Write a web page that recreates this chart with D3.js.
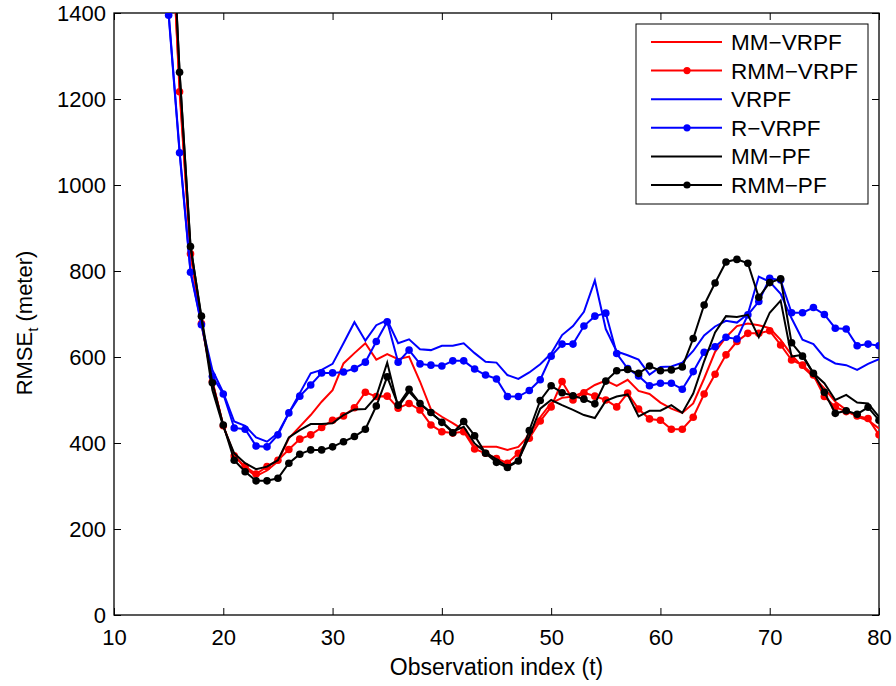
<!DOCTYPE html>
<html>
<head>
<meta charset="utf-8">
<script src="https://cdn.jsdelivr.net/npm/d3@7"></script>
<style>
  body { margin: 0; background: #fff; }
  svg text { font-family: "Liberation Sans", Arial, Helvetica, sans-serif; }
</style>
</head>
<body>
<div id="app"></div>
<script>
// observation index t = 15 .. 80
const tStart = 15;
const tEnd = 80;

const mmVrpf = [1720, 1230, 845, 680, 545, 440, 372, 341, 323, 336, 357, 411, 438, 465, 496, 523, 585, 609, 632, 594,
    607, 595, 601, 543, 478, 461, 446, 430, 391, 391, 391, 384, 391, 419, 460, 493, 505, 508, 519, 535,
    545, 533, 547, 521, 514, 494, 480, 470, 492, 550, 612, 646, 672, 678, 674, 667, 640, 605, 577, 554,
    527, 496, 477, 461, 453, 434];

const rmmVrpf = [1740, 1217, 840, 678, 543, 440, 370, 345, 328, 345, 360, 385, 409, 419, 436, 453, 463, 482, 518, 508,
    509, 481, 492, 477, 442, 426, 423, 426, 386, 376, 364, 353, 376, 411, 451, 484, 543, 500, 517, 509,
    500, 484, 516, 479, 456, 453, 432, 432, 460, 514, 560, 605, 636, 655, 655, 661, 628, 593, 581, 558,
    508, 484, 473, 463, 457, 419];

const vrpf = [1400, 1080, 800, 678, 570, 517, 450, 440, 413, 403, 423, 470, 516, 562, 570, 584, 632, 681, 638, 674,
    686, 632, 641, 618, 616, 626, 626, 632, 609, 589, 587, 558, 549, 564, 583, 608, 651, 672, 705, 778,
    665, 613, 604, 594, 559, 577, 578, 587, 614, 650, 671, 684, 680, 700, 787, 775, 747, 690, 640, 630,
    599, 585, 581, 570, 584, 595];

const rVrpf = [1395, 1075, 797, 675, 555, 514, 435, 432, 393, 391, 419, 470, 509, 535, 563, 563, 565, 573, 588, 636,
    682, 588, 616, 584, 581, 579, 591, 591, 572, 558, 549, 508, 508, 522, 547, 602, 630, 630, 672, 695,
    702, 608, 573, 556, 533, 539, 539, 525, 566, 611, 624, 646, 642, 698, 729, 783, 779, 703, 703, 715,
    699, 667, 665, 626, 630, 626];

const mmPf = [1780, 1265, 860, 690, 523, 438, 376, 353, 339, 345, 360, 413, 430, 444, 444, 446, 465, 478, 479, 508,
    587, 484, 519, 492, 469, 450, 426, 438, 399, 378, 362, 345, 360, 415, 480, 500, 488, 477, 465, 458,
    498, 508, 513, 462, 475, 475, 488, 470, 515, 590, 657, 695, 693, 698, 646, 703, 731, 601, 605, 562,
    539, 500, 512, 494, 492, 461];

const rmmPf = [1790, 1262, 857, 695, 540, 442, 360, 333, 312, 312, 318, 353, 374, 384, 384, 391, 403, 415, 432, 486,
    554, 488, 525, 492, 471, 448, 424, 450, 417, 376, 355, 343, 358, 429, 499, 533, 517, 510, 502, 491,
    544, 568, 571, 562, 579, 568, 570, 577, 643, 721, 772, 821, 827, 818, 739, 773, 782, 633, 602, 562,
    518, 469, 475, 467, 483, 453];

const seriesNames = ['MM\u2212VRPF', 'RMM\u2212VRPF', 'VRPF', 'R\u2212VRPF', 'MM\u2212PF', 'RMM\u2212PF'];
const seriesColors = ['#ff0000', '#ff0000', '#0000ff', '#0000ff', '#000000', '#000000'];
const seriesMarkers = [false, true, false, true, false, true];
const seriesValues = [mmVrpf, rmmVrpf, vrpf, rVrpf, mmPf, rmmPf];

const xTicks = [10, 20, 30, 40, 50, 60, 70, 80];
const yTicks = [0, 200, 400, 600, 800, 1000, 1200, 1400];

const width = 896, height = 686;
const plotL = 114, plotR = 879, plotT = 13, plotB = 615;

const svg = d3.select('#app')
    .append('svg')
    .attr('width', width)
    .attr('height', height);

const x = d3.scaleLinear().domain([10, 80]).range([plotL, plotR]);
const y = d3.scaleLinear().domain([0, 1400]).range([plotB, plotT]);

svg.append('defs').append('clipPath')
    .attr('id', 'plotclip')
    .append('rect')
    .attr('x', plotL)
    .attr('y', plotT)
    .attr('width', plotR - plotL)
    .attr('height', plotB - plotT);

// axes, ticks pointing inward like matlab
const fontSize = 22;

const gx = svg.append('g')
    .attr('transform', `translate(0,${plotB})`)
    .call(d3.axisBottom(x).tickValues(xTicks).tickFormat(d3.format('d'))
        .tickSize(-7).tickSizeOuter(0).tickPadding(14));

const gy = svg.append('g')
    .attr('transform', `translate(${plotL},0)`)
    .call(d3.axisLeft(y).tickValues(yTicks).tickFormat(d3.format('d'))
        .tickSize(-7).tickSizeOuter(0).tickPadding(8));

const gxTop = svg.append('g')
    .attr('transform', `translate(0,${plotT})`)
    .call(d3.axisTop(x).tickValues(xTicks).tickSize(-7).tickSizeOuter(0).tickFormat(''));

const gyRight = svg.append('g')
    .attr('transform', `translate(${plotR},0)`)
    .call(d3.axisRight(y).tickValues(yTicks).tickSize(-7).tickSizeOuter(0).tickFormat(''));

[gx, gy, gxTop, gyRight].forEach(g => {
    g.select('.domain').remove();
    g.selectAll('line').attr('stroke', '#000').attr('stroke-width', 1);
    g.selectAll('text')
        .attr('fill', '#000')
        .style('font-size', fontSize + 'px');
});

svg.append('rect')
    .attr('x', plotL)
    .attr('y', plotT)
    .attr('width', plotR - plotL)
    .attr('height', plotB - plotT)
    .attr('fill', 'none')
    .attr('stroke', '#000')
    .attr('stroke-width', 1.3);

// lines
const plot = svg.append('g').attr('clip-path', 'url(#plotclip)');

const line = d3.line()
    .x((d, i) => x(tStart + i))
    .y(d => y(d));

seriesValues.forEach((vals, k) => {
    plot.append('path')
        .datum(vals)
        .attr('fill', 'none')
        .attr('stroke', seriesColors[k])
        .attr('stroke-width', 2)
        .attr('stroke-linejoin', 'miter')
        .attr('d', line);

    if (seriesMarkers[k]) {
        plot.selectAll(null)
            .data(vals)
            .enter()
            .append('circle')
            .attr('cx', (d, i) => x(tStart + i))
            .attr('cy', d => y(d))
            .attr('r', 3.8)
            .attr('fill', seriesColors[k]);
    }
});

// axis labels
svg.append('text')
    .attr('x', (plotL + plotR) / 2)
    .attr('y', 675)
    .attr('text-anchor', 'middle')
    .style('font-size', '23px')
    .text('Observation index (t)');

const yl = svg.append('text')
    .attr('transform', 'translate(32,323) rotate(-90)')
    .attr('text-anchor', 'middle')
    .style('font-size', fontSize + 'px');
yl.append('tspan').text('RMSE');
yl.append('tspan').attr('dy', 6).style('font-size', '15px').text('t');
yl.append('tspan').attr('dy', -6).text(' (meter)');

// legend
const legend = svg.append('g');
legend.append('rect')
    .attr('x', 636)
    .attr('y', 24)
    .attr('width', 232)
    .attr('height', 180)
    .attr('fill', '#fff')
    .attr('stroke', '#000')
    .attr('stroke-width', 1);

const rowY = i => 42 + i * 28.6;

seriesNames.forEach((name, i) => {
    legend.append('line')
        .attr('x1', 651)
        .attr('x2', 722)
        .attr('y1', rowY(i))
        .attr('y2', rowY(i))
        .attr('stroke', seriesColors[i])
        .attr('stroke-width', 2);
    if (seriesMarkers[i]) {
        legend.append('circle')
            .attr('cx', 687)
            .attr('cy', rowY(i))
            .attr('r', 3.6)
            .attr('fill', seriesColors[i]);
    }
    legend.append('text')
        .attr('x', 731)
        .attr('y', rowY(i) + 8)
        .style('font-size', '22.5px')
        .text(name);
});
</script>
</body>
</html>
